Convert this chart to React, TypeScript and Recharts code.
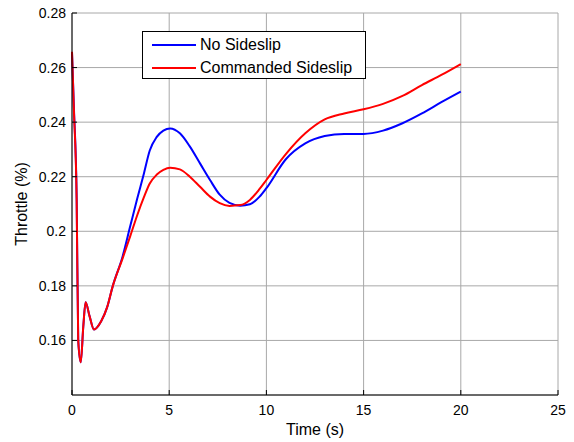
import { LineChart, Line, XAxis, YAxis, CartesianGrid, Label } from "recharts";

// time stamps (s)
const time = [
  0, 0.1, 0.24, 0.32, 0.45, 0.58, 0.7, 0.9, 1.13, 1.5, 1.8, 2.1, 2.6, 3.0, 3.35,
  3.7, 4.0, 4.35, 4.7, 5.05, 5.55, 6.05, 6.6, 7.1, 7.6, 8.1, 8.65, 9.15, 9.65,
  10, 11, 12, 13, 14, 15, 16, 17, 18, 19, 20,
];

const noSideslip = [
  0.2655, 0.245, 0.212, 0.16, 0.152, 0.165, 0.174, 0.169, 0.164, 0.167, 0.172,
  0.18, 0.1907, 0.202, 0.2118, 0.2212, 0.2296, 0.2345, 0.2369, 0.2377, 0.2359,
  0.2312, 0.2247, 0.2188, 0.2134, 0.2104, 0.2094, 0.2099, 0.2127, 0.2158,
  0.2264, 0.2322, 0.2349, 0.2357, 0.2357, 0.2369, 0.2396, 0.2432, 0.2473,
  0.2512,
];

const commandedSideslip = [
  0.2658, 0.244, 0.211, 0.16, 0.152, 0.165, 0.174, 0.169, 0.164, 0.167, 0.172,
  0.18, 0.19, 0.1983, 0.2058, 0.2125, 0.2175, 0.2207, 0.2225, 0.2233, 0.2227,
  0.2201, 0.2162, 0.2127, 0.2103, 0.2093, 0.2096, 0.2115, 0.2155, 0.2188,
  0.2283, 0.2359, 0.241, 0.2432, 0.2447, 0.2467, 0.2496, 0.2536, 0.2573,
  0.2613,
];

const xTicks = [0, 5, 10, 15, 20, 25];
const yTicks = [0.14, 0.16, 0.18, 0.2, 0.22, 0.24, 0.26, 0.28];

const data = time.map((t, i) => ({
  t,
  noSideslip: noSideslip[i],
  commanded: commandedSideslip[i],
}));

const font = "'Liberation Sans', Arial, sans-serif";

function XTick(props: any) {
  const { x, y, payload } = props;
  return (
    <g>
      <line x1={x} y1={y} x2={x} y2={y - 5} stroke="#000" />
      <text x={x} y={y + 20} textAnchor="middle" fontSize={14} fontFamily={font} fill="#000">
        {payload.value}
      </text>
    </g>
  );
}

function YTick(props: any) {
  const { x, y, payload } = props;
  const v = payload.value;
  if (Math.abs(v - 0.14) < 1e-6) return <g />;
  return (
    <g>
      <line x1={x} y1={y} x2={x + 5} y2={y} stroke="#000" />
      <text x={x - 6} y={y + 5} textAnchor="end" fontSize={14} fontFamily={font} fill="#000">
        {String(Number(v.toFixed(2)))}
      </text>
    </g>
  );
}

export default function App() {
  return (
    <div
      style={{
        position: "relative",
        width: 574,
        height: 442,
        margin: "-8px 0 0 -8px",
        fontFamily: font,
      }}
    >
      <LineChart
        width={574}
        height={442}
        data={data}
        margin={{ top: 13, right: 16, left: 14, bottom: 5 }}
      >
        <CartesianGrid stroke="#a8a8a8" />
        <XAxis
          dataKey="t"
          type="number"
          domain={[0, 25]}
          ticks={xTicks}
          tickSize={0}
          tickMargin={0}
          height={42}
          stroke="#000"
          tick={<XTick />}
          interval={0}
        >
          <Label
            value="Time (s)"
            position="insideBottom"
            offset={2}
            style={{ fontSize: 16, fontFamily: font, fill: "#000" }}
          />
        </XAxis>
        <YAxis
          type="number"
          domain={[0.14, 0.28]}
          ticks={yTicks}
          tickSize={0}
          tickMargin={0}
          width={58}
          stroke="#000"
          tick={<YTick />}
          interval={0}
        >
          <Label
            value="Throttle (%)"
            angle={-90}
            position="insideLeft"
            offset={7}
            style={{ fontSize: 16, fontFamily: font, fill: "#000", textAnchor: "middle" }}
          />
        </YAxis>
        <Line
          type="monotone"
          dataKey="noSideslip"
          stroke="#0000ff"
          strokeWidth={2}
          dot={false}
          isAnimationActive={false}
        />
        <Line
          type="monotone"
          dataKey="commanded"
          stroke="#ff0000"
          strokeWidth={2}
          dot={false}
          isAnimationActive={false}
        />
      </LineChart>
      <div
        style={{
          position: "absolute",
          left: 142,
          top: 31,
          width: 222,
          height: 46,
          border: "1px solid #000",
          background: "#fff",
          fontSize: 16,
          color: "#000",
        }}
      >
        {[
          { name: "No Sideslip", color: "#0000ff" },
          { name: "Commanded Sideslip", color: "#ff0000" },
        ].map((item, i) => (
          <div
            key={item.name}
            style={{
              position: "absolute",
              left: 9,
              top: 3 + i * 23,
              height: 20,
              display: "flex",
              alignItems: "center",
              whiteSpace: "nowrap",
            }}
          >
            <svg width={44} height={4} style={{ marginRight: 4 }}>
              <line x1={0} y1={2} x2={44} y2={2} stroke={item.color} strokeWidth={2} />
            </svg>
            <span>{item.name}</span>
          </div>
        ))}
      </div>
    </div>
  );
}
